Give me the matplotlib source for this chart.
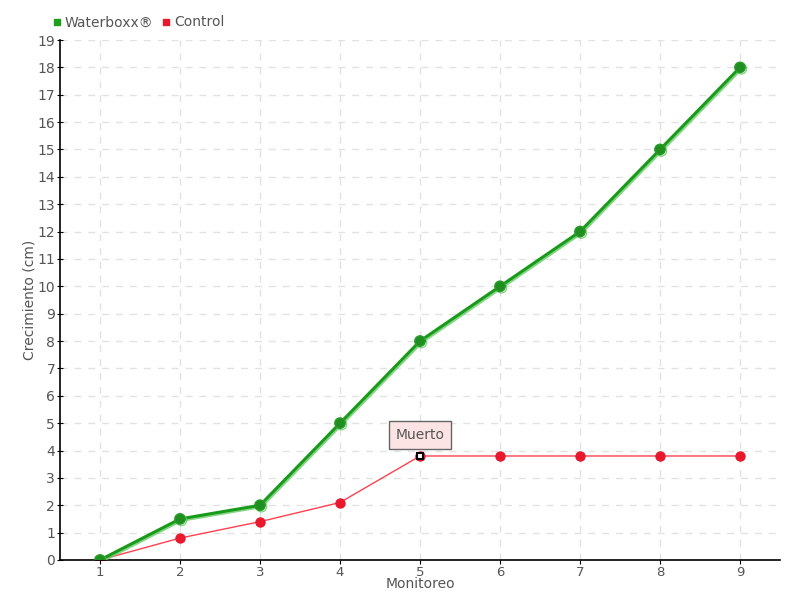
import matplotlib.pyplot as plt
import matplotlib.patheffects as pe

monitoreo = [1, 2, 3, 4, 5, 6, 7, 8, 9]
waterboxx = [0, 1.5, 2, 5, 8, 10, 12, 15, 18]
control = [0, 0.8, 1.4, 2.1, 3.8, 3.8, 3.8, 3.8, 3.8]

plt.rcParams['font.family'] = ['DejaVu Sans']
txt = '#555555'

fig = plt.figure(figsize=(8, 6), dpi=100)
ax = fig.add_axes([0.075, 0.0667, 0.9, 0.8666])

ax.plot(monitoreo, waterboxx, color='#1a9a1a', lw=2.2, marker='o', ms=7.5,
        mfc='#1f8f1f', mec='#2a9a2a', zorder=3,
        path_effects=[pe.SimpleLineShadow(offset=(1, -1), shadow_color='#66cc66', alpha=0.8), pe.Normal()])
ax.plot(monitoreo, control, color='#ff4050', lw=1, marker='o', ms=6.5,
        mfc='#e8192c', mec='#e8192c', zorder=2)
ax.plot(monitoreo[4], control[4], 's', ms=5, mfc='white', mec='black', mew=1.5, zorder=4)
ax.annotate('Muerto', (monitoreo[4], control[4]), xytext=(0, 15), textcoords='offset points',
            ha='center', va='center', fontsize=10, color=txt,
            bbox=dict(boxstyle='square,pad=0.5', fc='#fde4e4', ec='#666666', lw=1))

ax.set_xlim(0.5, 9.5)
ax.set_ylim(0, 19)
ax.set_xticks(monitoreo)
ax.set_yticks(range(0, 20))
ax.grid(True, ls=(0, (5, 5)), color='#e2e2e2', lw=1)
ax.set_axisbelow(True)
for s in ['top', 'right']:
    ax.spines[s].set_visible(False)
ax.spines['left'].set_linewidth(1.2)
ax.spines['bottom'].set_linewidth(1.2)
ax.tick_params(axis='y', colors='black', labelcolor=txt, labelsize=10, length=5, direction='inout', pad=1)
ax.tick_params(axis='x', colors='black', labelcolor=txt, labelsize=9.5, length=3, direction='out', pad=1)
ax.set_xlabel('Monitoreo', color=txt, fontsize=10)
ax.xaxis.set_label_coords(0.5, -0.033)
ax.set_ylabel('Crecimiento (cm)', color=txt, fontsize=10)
ax.yaxis.set_label_coords(-0.032, 0.5)

ax.plot([], [], 's', color='#1aa01a', ms=5, label='Waterboxx®')
ax.plot([], [], 's', color='#e8192c', ms=5, label='Control')
h, l = ax.get_legend_handles_labels()
fig.legend(h[-2:], l[-2:], loc='upper left', bbox_to_anchor=(0.05, 0.995), ncol=2, frameon=False,
           fontsize=10, handlelength=0.6, handletextpad=0.3, columnspacing=0.6, labelcolor=txt)

fig.savefig('out.png')
